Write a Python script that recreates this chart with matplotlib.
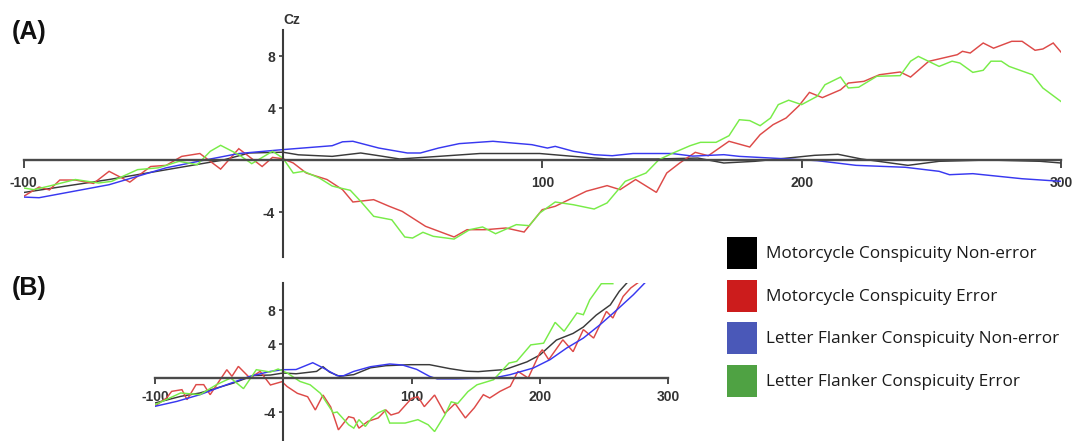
import numpy as np
import matplotlib
matplotlib.use("Agg")
import matplotlib.pyplot as plt
from matplotlib.patches import Patch

# ---------------- data (time in ms, amplitude in microvolts) ----------------
series_names = ["Motorcycle Conspicuity Non-error",
                "Motorcycle Conspicuity Error",
                "Letter Flanker Conspicuity Non-error",
                "Letter Flanker Conspicuity Error"]

x_ticks = [-100, 100, 200, 300]
y_ticks = [-4, 4, 8]

# Panel A
A_black = [(-100, -2.5), (-67, -1.5), (-23, 0.0), (-13, 0.54), (0, 0.6), (6, 0.4), (19, 0.28),
           (30, 0.54), (37, 0.33), (45, 0.08), (60, 0.28), (76, 0.5), (99, 0.5), (112, 0.28),
           (125, 0.08), (144, 0.08), (160, 0.15), (170, -0.23), (182, -0.1), (205, 0.36),
           (214, 0.44), (223, 0.08), (241, -0.41), (253, -0.1), (272, 0.0), (292, -0.1), (300, -0.23)]
A_red = [(-100, -2.8), (-94, -2.08), (-90, -2.3), (-86, -1.54), (-80, -1.54), (-73, -1.8),
         (-67, -0.87), (-59, -1.7), (-51, -0.5), (-45, -0.41), (-39, 0.28), (-32, 0.5),
         (-24, -0.7), (-17, 0.87), (-8, -0.5), (-4, 0.2), (0, 0.1), (4, -0.23), (9, -1.0),
         (17, -1.5), (23, -2.28), (27, -3.23), (35, -3.05), (41, -3.56), (46, -3.95),
         (55, -5.1), (66, -5.92), (71, -5.36), (78, -5.36), (86, -5.23), (93, -5.54),
         (100, -3.82), (105, -3.56), (117, -2.4), (125, -1.97), (130, -2.28), (136, -1.5),
         (144, -2.49), (148, -1.0), (153, -0.23), (159, 0.59), (164, 0.33), (172, 1.44),
         (180, 1.0), (184, 1.95), (189, 2.72), (194, 3.23), (199, 4.18), (203, 5.2),
         (208, 4.8), (215, 5.4), (218, 5.92), (224, 6.05), (230, 6.56), (238, 6.77),
         (242, 6.38), (249, 7.59), (260, 8.1), (262, 8.36), (265, 8.23), (270, 9.0),
         (274, 8.6), (281, 9.13), (285, 9.13), (290, 8.44), (293, 8.54), (297, 9.0), (300, 8.3)]
A_blue = [(-100, -2.85), (-94, -2.9), (-67, -1.9), (-45, -0.6), (-30, 0.0), (-17, 0.5), (0, 0.8),
          (19, 1.1), (23, 1.4), (27, 1.44), (37, 0.92), (48, 0.54), (53, 0.54), (60, 0.92),
          (68, 1.26), (81, 1.44), (89, 1.3), (96, 1.18), (102, 0.92), (105, 1.05), (112, 0.67),
          (120, 0.41), (127, 0.33), (135, 0.5), (150, 0.5), (158, 0.3), (170, 0.41), (176, 0.28),
          (195, 0.08), (206, -0.05), (221, -0.41), (240, -0.56), (253, -0.87), (257, -1.13),
          (266, -1.05), (285, -1.44), (300, -1.64)]
A_green = [(-100, -2.15), (-96, -2.28), (-90, -2.0), (-80, -1.5), (-71, -1.77), (-66, -1.64),
           (-56, -0.74), (-48, -0.6), (-40, -0.1), (-33, -0.36), (-28, 0.67), (-24, 1.13),
           (-17, 0.41), (-12, -0.28), (-4, 0.67), (0, 0.15), (4, -1.0), (8, -0.87), (14, -1.38),
           (19, -2.0), (22, -2.15), (26, -2.33), (30, -3.18), (35, -4.33), (42, -4.6),
           (47, -5.92), (50, -6.0), (54, -5.56), (58, -5.87), (66, -6.08), (72, -5.36),
           (77, -5.15), (82, -5.67), (90, -4.97), (95, -5.05), (99, -4.08), (105, -3.23),
           (112, -3.44), (120, -3.77), (125, -3.3), (132, -1.64), (140, -1.0), (145, 0.03),
           (150, 0.5), (157, 1.1), (161, 1.36), (167, 1.36), (172, 1.87), (176, 3.1),
           (180, 3.03), (184, 2.64), (188, 3.23), (191, 4.26), (195, 4.6), (200, 4.26),
           (206, 4.9), (209, 5.79), (215, 6.38), (218, 5.54), (222, 5.6), (229, 6.44),
           (238, 6.49), (242, 7.6), (245, 7.97), (253, 7.2), (258, 7.6), (261, 7.46),
           (266, 6.74), (270, 6.9), (273, 7.6), (277, 7.6), (280, 7.2), (289, 6.56),
           (293, 5.54), (300, 4.5)]

# Panel B
B_black = [(-100, -2.94), (-80, -2.16), (-65, -1.76), (-39, -0.6), (-23, 0.3), (-10, 0.35),
           (0, 0.59), (10, 0.5), (26, 0.78), (31, 1.33), (36, 0.7), (44, 0.2), (55, 0.4),
           (68, 1.2), (80, 1.45), (99, 1.57), (114, 1.57), (130, 1.1), (143, 0.8), (152, 0.75),
           (161, 0.86), (173, 1.0), (190, 1.9), (200, 2.7), (213, 4.47), (226, 5.25),
           (234, 6.0), (244, 7.4), (255, 8.6), (262, 10.2), (268, 11.2), (272, 12.0)]
B_red = [(-100, -3.3), (-91, -2.35), (-87, -1.57), (-79, -1.37), (-75, -2.55), (-68, -0.78),
         (-62, -0.78), (-57, -1.96), (-44, 0.98), (-40, 0.2), (-35, 1.37), (-26, 0.0),
         (-18, 0.78), (-10, -0.82), (-1, -0.43), (3, -1.0), (11, -1.8), (19, -2.2),
         (25, -3.76), (31, -2.0), (37, -3.4), (43, -6.1), (51, -4.55), (55, -4.7),
         (59, -5.9), (66, -5.1), (74, -4.7), (80, -3.76), (84, -4.35), (90, -4.08),
         (100, -2.4), (105, -2.2), (110, -3.37), (118, -2.0), (126, -4.16), (134, -3.0),
         (142, -4.7), (149, -3.5), (156, -1.96), (161, -2.35), (169, -1.57), (177, -0.98),
         (183, 0.78), (191, 0.0), (200, 2.94), (202, 3.33), (207, 2.16), (218, 4.5),
         (226, 3.1), (234, 5.7), (242, 4.7), (252, 7.84), (257, 7.06), (265, 9.6),
         (271, 10.6), (278, 11.37), (283, 12.2)]
B_blue = [(-100, -3.33), (-83, -2.75), (-65, -1.96), (-44, -0.78), (-26, 0.2), (-10, 0.78),
          (0, 0.98), (10, 1.0), (23, 1.8), (31, 1.2), (42, 0.27), (47, 0.27), (55, 0.78),
          (68, 1.33), (83, 1.65), (93, 1.53), (104, 1.02), (114, 0.2), (120, -0.1),
          (135, -0.1), (164, 0.0), (177, 0.4), (195, 1.18), (208, 2.16), (221, 3.53),
          (234, 4.7), (247, 6.27), (260, 8.0), (273, 9.8), (282, 11.2), (287, 12.0)]
B_green = [(-100, -3.14), (-80, -1.76), (-65, -1.96), (-52, -0.78), (-41, 0.0), (-31, -1.25),
           (-21, 0.98), (-10, 0.7), (-4, 1.06), (3, 0.6), (13, -0.4), (21, -0.8), (29, -1.8),
           (39, -4.1), (42, -4.0), (51, -5.5), (55, -5.9), (59, -4.9), (64, -5.7), (69, -4.7),
           (74, -4.1), (79, -3.76), (83, -5.3), (95, -5.3), (105, -4.9), (113, -5.5),
           (118, -6.3), (126, -4.35), (131, -2.8), (136, -3.0), (144, -1.6), (151, -0.8),
           (164, -0.2), (176, 1.76), (182, 1.96), (193, 3.9), (203, 4.1), (212, 6.55),
           (219, 5.5), (229, 7.65), (234, 7.45), (239, 9.2), (248, 11.1), (257, 11.1)]

# ---------------- style ----------------
line_colors = ["#3a3a3a", "#dd4a48", "#3838f0", "#78ec48"]
patch_colors = ["#000000", "#cc1c1c", "#4a58b8", "#4fa243"]
axis_color = "#3c3c3c"
tick_font = dict(family="Liberation Sans", weight="bold", size=10, color="#333333")

W, H = 1073, 441
fig = plt.figure(figsize=(W / 100, H / 100), dpi=100)


def px_axes(x0, y0, x1, y1):
    return fig.add_axes([x0 / W, 1 - y1 / H, (x1 - x0) / W, (y1 - y0) / H])


def style_axes(ax, ylim, xtick_len, xpad):
    ax.set_xlim(-100, 300)
    ax.set_ylim(*ylim)
    ax.patch.set_visible(False)
    for s in ("top", "right"):
        ax.spines[s].set_visible(False)
    ax.spines["left"].set_position(("data", 0))
    ax.spines["bottom"].set_position(("data", 0))
    ax.spines["left"].set_color(axis_color)
    ax.spines["bottom"].set_color("#4a4a4a")
    ax.spines["left"].set_linewidth(1.5)
    ax.spines["bottom"].set_linewidth(1.7)
    ax.set_xticks(x_ticks)
    ax.set_xticklabels([str(v) for v in x_ticks], fontdict=tick_font)
    ax.set_yticks(y_ticks)
    ax.set_yticklabels([str(v) for v in y_ticks], fontdict=tick_font)
    ax.tick_params(axis="x", direction="out", length=xtick_len, width=1.3, color=axis_color, pad=xpad)
    ax.tick_params(axis="y", direction="out", length=3, width=1.2, color=axis_color, pad=2.5)


def draw(ax, data_list):
    for data, col in zip(data_list, line_colors):
        arr = np.array(data, dtype=float)
        ax.plot(arr[:, 0], arr[:, 1], color=col, lw=1.05, solid_joinstyle="miter")


# Panel A
axA = px_axes(23.5, 30, 1061, 257)
style_axes(axA, (-7.46, 10.0), 6, 5.5)
draw(axA, [A_black, A_red, A_blue, A_green])

# Panel B
axB = px_axes(155, 283, 668, 441)
style_axes(axB, (-7.41, 11.18), 4, 4.5)
draw(axB, [B_black, B_red, B_blue, B_green])

# Labels
fig.text(283 / W, 1 - 20 / H, "Cz", ha="left", va="center",
         family="Liberation Sans", weight="bold", size=10, color="#333333")
fig.text(12 / W, 1 - 32 / H, "(A)", ha="left", va="center",
         family="Liberation Sans", weight="bold", size=18, color="#111111")
fig.text(12 / W, 1 - 288 / H, "(B)", ha="left", va="center",
         family="Liberation Sans", weight="bold", size=18, color="#111111")

# Legend
handles = [Patch(facecolor=c, edgecolor="none") for c in patch_colors]
fs = 12.3
fs_px = fs * 100 / 72
patch_h = 32.0
hh = (patch_h / fs_px - 0.245) / 0.65
leg = fig.legend(handles, series_names, loc="upper left",
                 bbox_to_anchor=(727 / W, 1 - 237 / H), frameon=False,
                 borderpad=0, borderaxespad=0,
                 handlelength=30 / fs_px, handleheight=hh,
                 handletextpad=9 / fs_px, labelspacing=10.5 / fs_px,
                 prop=dict(family="Open Sans", size=fs))
for t in leg.get_texts():
    t.set_color("#1a1a1a")

fig.savefig("out.png", dpi=100)
